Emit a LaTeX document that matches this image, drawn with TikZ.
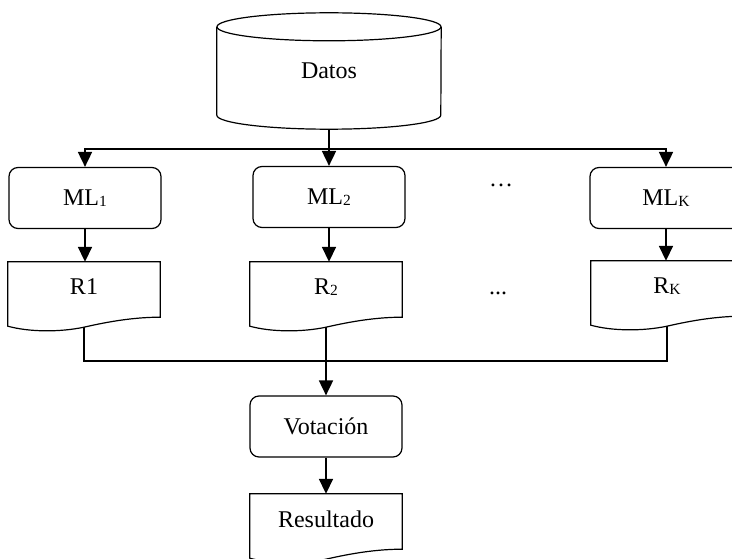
\documentclass[tikz,border=0pt]{standalone}
\usepackage{fontspec}
\setmainfont{Liberation Serif}
\usetikzlibrary{arrows.meta,calc}

% small lowered index as typed in the word processor
\newcommand\lowsub[1]{\raisebox{-1.5pt}{\fontsize{15.5}{16}\selectfont #1}}

% outline of a flowchart "document" shape around a node
\newcommand\docoutline[1]{%
  \draw[outline] (#1.north west) -- ($(#1.south west)+(0,-14)$)
    .. controls +(22,-6) and +(-24,-5) .. ($(#1.south)+(0,-15)$)
    .. controls +(26,6) and +(-25,0) .. ($(#1.south east)+(0,-5)$)
    -- (#1.north east) -- cycle;
  \coordinate (#1-b) at ($(#1.south)+(0,-15)$);}

\tikzset{
  x=1pt, y=1pt,
  txt/.style={font=\fontsize{24}{28}\selectfont},
  outline/.style={line width=1.2pt},
  proc/.style={txt, outline, draw, rounded corners=9pt,
    minimum width=152pt, minimum height=61pt, inner sep=0pt},
  docbox/.style={txt, minimum width=152pt, minimum height=50pt, inner sep=0pt},
  wire/.style={line width=1.8pt},
  flow/.style={wire, -{Triangle[length=15pt,width=14pt]}},
}

\begin{document}
\begin{tikzpicture}
\useasboundingbox (0,0) rectangle (732,-559);
\clip (0,0) rectangle (732,-559);

% data store
\node[txt, minimum width=224pt, minimum height=88pt, inner sep=0pt] (datos) at (329,-71) {Datos};
\draw[outline] (datos.north) ellipse[x radius=112, y radius=14];
\draw[outline] (datos.north west) -- (datos.south west)
  arc[start angle=180, end angle=360, x radius=112, y radius=14] -- (datos.north east);

% learners
\node[proc] (ml1) at (85,-198) {ML\lowsub{1}};
\node[proc] (ml2) at (329,-197) {ML\lowsub{2}};
\node[proc] (mlk) at (666,-198) {ML\lowsub{K}};
\node[txt] (dotsA) at (501,-185) {…};

% individual results
\node[docbox] (r1) at (84,-287) {R1};
\node[docbox] (r2) at (326,-287) {R\lowsub{2}};
\node[docbox] (rk) at (667,-286) {R\lowsub{K}};
\docoutline{r1}
\docoutline{r2}
\docoutline{rk}
\node[txt] (dotsB) at (498,-293) {...};

% voting and final result
\node[proc] (vot) at (326,-426.5) {Votación};
\node[docbox] (res) at (326,-519) {Resultado};
\docoutline{res}

% distribution of the data
\coordinate (split) at (329,-149);
\draw[wire] ($(datos.south)+(0,-14)$) -- (split);
\draw[flow] (split) -| (ml1.north);
\draw[flow] (split) -- (ml2.north);
\draw[flow] (split) -| (mlk.north);

% learner outputs
\draw[flow] (ml1.south) -- (ml1.south |- r1.north);
\draw[flow] (ml2.south) -- (ml2.south |- r2.north);
\draw[flow] (mlk.south) -- (mlk.south |- rk.north);

% collection for the vote
\coordinate (join) at (326,-361);
\draw[wire] (r1-b) |- (join) -| (rk-b);
\draw[flow] (r2-b) -- (vot.north);
\draw[flow] (vot.south) -- (res.north);
\end{tikzpicture}
\end{document}
